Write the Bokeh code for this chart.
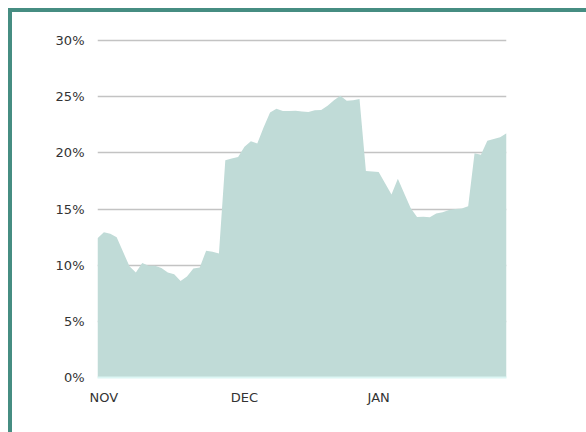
from bokeh.plotting import figure
from bokeh.models import Range1d, FixedTicker
from bokeh.embed import file_html
from bokeh.resources import INLINE

# Share (%) per observation, Nov -> Jan
values = [12.4, 12.95, 12.8, 12.5, 11.2, 9.9, 9.35, 10.2, 9.95, 9.95,
          9.75, 9.35, 9.2, 8.6, 9.0, 9.7, 9.8, 11.3, 11.2, 11.05,
          19.35, 19.5, 19.65, 20.55, 21.05, 20.85, 22.3, 23.6, 23.95, 23.75,
          23.75, 23.77, 23.7, 23.65, 23.8, 23.83, 24.2, 24.7, 25.1, 24.65,
          24.7, 24.8, 18.4, 18.35, 18.3, 17.3, 16.3, 17.7, 16.4, 15.1,
          14.3, 14.33, 14.27, 14.6, 14.72, 14.93, 15.0, 15.05, 15.25, 19.97,
          19.85, 21.1, 21.25, 21.4, 21.75]
x_index = list(range(len(values)))
baseline = [0] * len(values)

month_ticks = [1, 23, 44]
month_labels = ["NOV", "DEC", "JAN"]
y_ticks = [0, 5, 10, 15, 20, 25, 30]
y_tick_labels = ["0%", "5%", "10%", "15%", "20%", "25%", "30%"]

FONT = "DejaVu Sans"

p = figure(width=574, height=420, output_backend="svg", toolbar_location=None,
           x_range=Range1d(0, len(values) - 1), y_range=Range1d(0, 30.2),
           frame_width=409, frame_height=339,
           min_border_left=85, min_border_right=80, min_border_top=26,
           min_border_bottom=55)
p.styles = {"border-top": "4px solid #468d82", "border-left": "4px solid #468d82",
            "margin-top": "8px", "margin-left": "8px"}
p.outline_line_color = None
p.background_fill_color = "white"
p.border_fill_color = "white"

p.varea(x=x_index, y1=baseline, y2=values, fill_color="#c0dbd7", fill_alpha=1.0)

p.xgrid.grid_line_color = None
p.ygrid.grid_line_color = "#c3c3c3"
p.ygrid.grid_line_width = 1.5
p.ygrid.ticker = FixedTicker(ticks=y_ticks)

p.yaxis.ticker = FixedTicker(ticks=y_ticks)
p.yaxis.major_label_overrides = {t: l for t, l in zip(y_ticks, y_tick_labels)}
p.yaxis.axis_line_color = None
p.yaxis.major_tick_line_color = None
p.yaxis.minor_tick_line_color = None
p.yaxis.major_tick_out = 0
p.yaxis.major_tick_in = 0
p.yaxis.major_label_standoff = 13

p.xaxis.ticker = FixedTicker(ticks=month_ticks)
p.xaxis.major_label_overrides = {t: l for t, l in zip(month_ticks, month_labels)}
p.xaxis.axis_line_color = "#dcf6f4"
p.xaxis.axis_line_width = 2
p.xaxis.major_tick_line_color = None
p.xaxis.minor_tick_line_color = None
p.xaxis.major_tick_out = 0
p.xaxis.major_tick_in = 0
p.xaxis.major_label_standoff = 12

for ax in (p.xaxis[0], p.yaxis[0]):
    ax.major_label_text_font = FONT
    ax.major_label_text_font_size = "13px"
    ax.major_label_text_color = "#333333"

open("out.html", "w").write(file_html(p, INLINE))
